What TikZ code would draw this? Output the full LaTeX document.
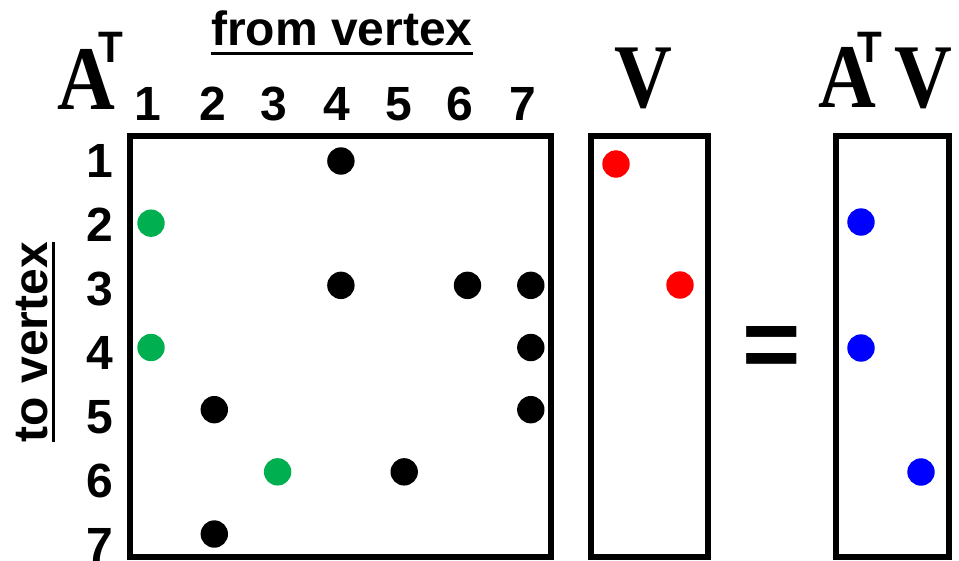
\documentclass[tikz,border=0pt]{standalone}
\usepackage{fontspec}
\setmainfont{Liberation Serif}
\setsansfont{Liberation Sans}
\begin{document}
\begin{tikzpicture}[x=1pt,y=-1pt,
  lbl/.style={font=\fontsize{48}{50}\selectfont\sffamily\bfseries, inner sep=0pt, anchor=base},
  bigl/.style={font=\fontsize{91}{95}\selectfont\rmfamily\bfseries, inner sep=0pt, anchor=base, xscale=0.88},
  tsup/.style={font=\fontsize{44}{46}\selectfont\sffamily\bfseries, inner sep=0pt, anchor=base, xscale=0.92},
  eqs/.style={font=\fontsize{100}{100}\selectfont\sffamily\bfseries, inner sep=0pt, anchor=base},
  dotn/.style={circle, inner sep=0pt, minimum size=27.4pt, fill=#1},
  box/.style={draw, line width=5.5pt, inner sep=0pt},
  uline/.style={line width=3pt}
]
\definecolor{dgreen}{RGB}{0,176,80}
\useasboundingbox (0,0) rectangle (959,560);
% boxes
\node[box, minimum width=421pt, minimum height=421pt] (M) at (340.5,346.5) {};
\node[box, minimum width=117pt, minimum height=421pt] (Vb) at (649.5,346.5) {};
\node[box, minimum width=113pt, minimum height=421pt] (AVb) at (892.5,346.5) {};
% headings
\node[bigl] (A1) at (86,109) {A};
\node[tsup] (T1) at (111,62) {T};
\node[bigl] (V1) at (643.5,107) {V};
\node[bigl] (A2) at (847,107) {A};
\node[tsup] (T2) at (869.5,62) {T};
\node[bigl] (V2) at (923,107) {V};
\node[eqs] (eq) at (772,378) {=};
% axis titles
\node[lbl] (fv) at (342,45) {from vertex};
\draw[uline] ([yshift=-8pt]fv.base west) -- ([yshift=-8pt]fv.base east);
\node[lbl, rotate=90] (tv) at (47,342) {to vertex};
\draw[uline] ([xshift=6pt]tv.base west) -- ([xshift=6pt]tv.base east);
% column labels
\foreach \i/\x in {1/148,2/213,3/274,4/337,5/399,6/460,7/523}
  \node[lbl] (c\i) at (\x,120) {\i};
% row labels
\foreach \i/\y in {1/177,2/241.1,3/305.2,4/369.3,5/433.4,6/497.5,7/561.6}
  \node[lbl] (r\i) at (100,\y) {\i};
% matrix entries
\foreach \r/\c/\col in {1/4/black,2/1/dgreen,3/4/black,3/6/black,3/7/black,4/1/dgreen,4/7/black,5/2/black,5/7/black,6/3/dgreen,6/5/black,7/2/black}
  \node[dotn=\col] (m\r\c) at ({151+63.3*(\c-1)},{161+62.17*(\r-1)}) {};
% vector V
\node[dotn=red] (v1) at (616,164) {};
\node[dotn=red] (v3) at (680,285) {};
% result
\node[dotn=blue] (w2) at (861,222) {};
\node[dotn=blue] (w4) at (861,348) {};
\node[dotn=blue] (w6) at (921,472) {};
\end{tikzpicture}
\end{document}
